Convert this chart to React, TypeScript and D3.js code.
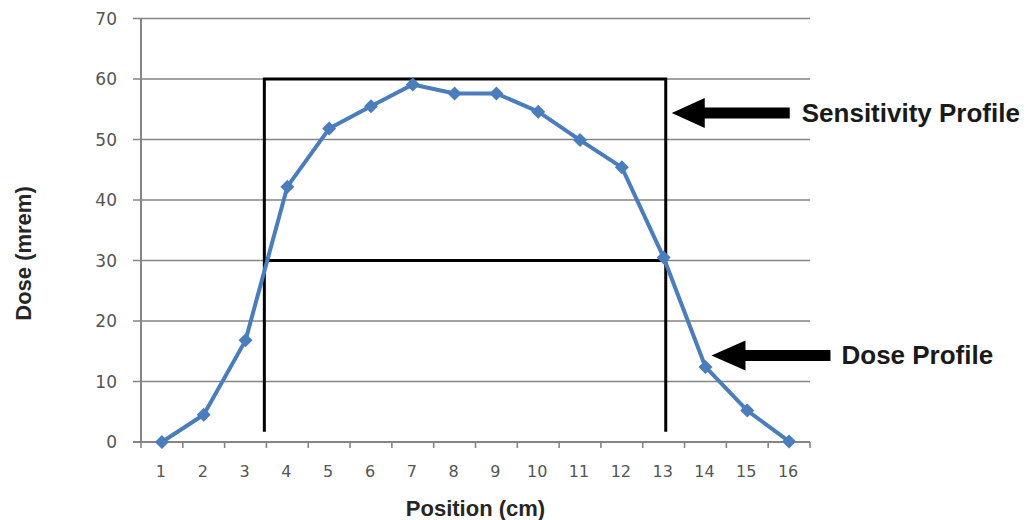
import React, { useEffect, useRef } from "react";
import * as d3 from "d3";

const positions = [1, 2, 3, 4, 5, 6, 7, 8, 9, 10, 11, 12, 13, 14, 15, 16];
const doseValues = [0, 4.5, 16.8, 42.2, 51.8, 55.5, 59.1, 57.6, 57.6, 54.6, 49.9, 45.4, 30.5, 12.4, 5.2, 0.1];
const yTicks = [0, 10, 20, 30, 40, 50, 60, 70];
// Sensitivity profile box (in data units: position, dose)
const sensLeft = 3.45;
const sensRight = 13.05;
const sensTop = 60;
const sensMid = 30;
const sensBottom = 1.7;

const W = 1030;
const H = 520;
const M = { left: 141, right: 220, top: 18.5, bottom: 78 };

export default function App() {
  const ref = useRef<SVGSVGElement | null>(null);

  useEffect(() => {
    const svg = d3.select(ref.current);
    svg.selectAll("*").remove();

    const x = d3.scaleLinear().domain([0.5, 16.5]).range([M.left, W - M.right]);
    const y = d3.scaleLinear().domain([0, 70]).range([H - M.bottom, M.top]);

    const grid = "#858585";
    const labelColor = "#555555";

    // horizontal gridlines + y tick marks
    svg.append("g")
      .selectAll("line")
      .data(yTicks.filter((d) => d > 0))
      .join("line")
      .attr("x1", M.left - 8)
      .attr("x2", W - M.right)
      .attr("y1", (d) => y(d))
      .attr("y2", (d) => y(d))
      .attr("stroke", grid)
      .attr("stroke-width", 1.6);

    // y axis line
    svg.append("line")
      .attr("x1", M.left).attr("x2", M.left)
      .attr("y1", y(70)).attr("y2", y(0))
      .attr("stroke", grid).attr("stroke-width", 2);

    // x axis line
    svg.append("line")
      .attr("x1", M.left - 8).attr("x2", W - M.right)
      .attr("y1", y(0)).attr("y2", y(0))
      .attr("stroke", grid).attr("stroke-width", 2);

    // x tick marks between categories
    const bounds = d3.range(0.5, 17, 1);
    svg.append("g")
      .selectAll("line")
      .data(bounds)
      .join("line")
      .attr("x1", (d) => x(d)).attr("x2", (d) => x(d))
      .attr("y1", y(0)).attr("y2", y(0) + 6)
      .attr("stroke", grid).attr("stroke-width", 1.6);

    // y tick labels
    svg.append("g")
      .selectAll("text")
      .data(yTicks)
      .join("text")
      .attr("x", 117)
      .attr("y", (d) => y(d))
      .attr("dy", "0.36em")
      .attr("text-anchor", "end")
      .attr("font-family", "DejaVu Sans, Verdana, sans-serif")
      .attr("font-size", 17)
      .attr("fill", labelColor)
      .text((d) => d);

    // x tick labels
    svg.append("g")
      .selectAll("text")
      .data(positions)
      .join("text")
      .attr("x", (d) => x(d) - 1)
      .attr("y", y(0) + 35)
      .attr("text-anchor", "middle")
      .attr("font-family", "DejaVu Sans, Verdana, sans-serif")
      .attr("font-size", 16)
      .attr("fill", labelColor)
      .text((d) => d);

    // axis titles
    svg.append("text")
      .attr("x", x(8.5))
      .attr("y", 516)
      .attr("text-anchor", "middle")
      .attr("font-family", "Liberation Sans, Arial, sans-serif")
      .attr("font-weight", "bold")
      .attr("font-size", 22)
      .attr("fill", "#262626")
      .text("Position (cm)");

    svg.append("text")
      .attr("transform", `translate(31, ${y(30) - 7}) rotate(-90)`)
      .attr("text-anchor", "middle")
      .attr("font-family", "Liberation Sans, Arial, sans-serif")
      .attr("font-weight", "bold")
      .attr("font-size", 22)
      .attr("fill", "#262626")
      .text("Dose (mrem)");

    // sensitivity profile box
    const box = svg.append("g").attr("stroke", "#000").attr("stroke-width", 3).attr("fill", "none");
    box.append("path")
      .attr("d", d3.line()([
        [x(sensLeft), y(sensBottom)],
        [x(sensLeft), y(sensTop)],
        [x(sensRight), y(sensTop)],
        [x(sensRight), y(sensBottom)],
      ]));
    box.append("line")
      .attr("x1", x(sensLeft)).attr("x2", x(sensRight))
      .attr("y1", y(sensMid)).attr("y2", y(sensMid));

    // dose line
    const pts: [number, number][] = positions.map((p, i) => [x(p), y(doseValues[i])]);
    const blue = "#4a7dbb";
    svg.append("path")
      .attr("d", d3.line()(pts))
      .attr("fill", "none")
      .attr("stroke", blue)
      .attr("stroke-width", 4)
      .attr("stroke-linejoin", "round");

    svg.append("g")
      .selectAll("path")
      .data(pts)
      .join("path")
      .attr("transform", (d) => `translate(${d[0]},${d[1]})`)
      .attr("d", "M0,-7 L7,0 L0,7 L-7,0 Z")
      .attr("fill", blue);

    // annotation arrows
    const arrow = (tipX: number, tipY: number, headLen: number, tailX: number, headH: number, shaftH: number) => {
      const d = `M${tipX},${tipY} L${tipX + headLen},${tipY - headH / 2} L${tipX + headLen},${tipY - shaftH / 2} L${tailX},${tipY - shaftH / 2} L${tailX},${tipY + shaftH / 2} L${tipX + headLen},${tipY + shaftH / 2} L${tipX + headLen},${tipY + headH / 2} Z`;
      svg.append("path").attr("d", d).attr("fill", "#000");
    };

    const sensArrowY = y(54.4);
    arrow(x(sensRight) + 6, sensArrowY, 33, x(sensRight) + 124, 30, 11);
    svg.append("text")
      .attr("x", x(sensRight) + 136)
      .attr("y", sensArrowY + 9)
      .attr("font-family", "Liberation Sans, Arial, sans-serif")
      .attr("font-weight", "bold")
      .attr("font-size", 26)
      .attr("fill", "#1a1a1a")
      .text("Sensitivity Profile");

    const doseArrowY = y(14.3);
    arrow(x(14) + 6, doseArrowY, 34, x(14) + 125, 30, 11);
    svg.append("text")
      .attr("x", x(14) + 136)
      .attr("y", doseArrowY + 9)
      .attr("font-family", "Liberation Sans, Arial, sans-serif")
      .attr("font-weight", "bold")
      .attr("font-size", 26)
      .attr("fill", "#1a1a1a")
      .text("Dose Profile");
  }, []);

  return (
    <svg
      ref={ref}
      width={W}
      height={H}
      style={{ position: "absolute", left: 0, top: 0, background: "#fff" }}
    />
  );
}
